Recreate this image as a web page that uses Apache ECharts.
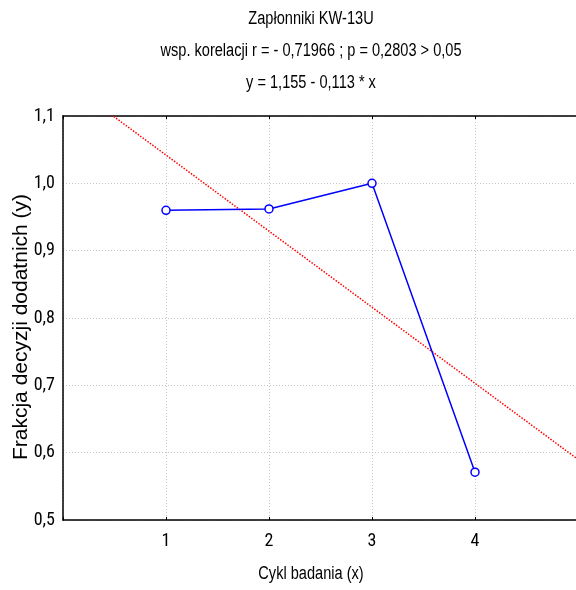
<!DOCTYPE html>
<html>
<head>
<meta charset="utf-8">
<script src="https://cdn.jsdelivr.net/npm/echarts@6/dist/echarts.min.js"></script>
<style>
  html, body { margin: 0; padding: 0; background: #fff; }
  #chart { width: 576px; height: 590px; }
</style>
</head>
<body>
<div id="chart"></div>
<script>
// Measurement cycles and the fraction of positive decisions in each
const cycles = [1, 2, 3, 4];
const fractions = [0.960, 0.962, 1.000, 0.571];

// Fitted regression line y = a + b * x
const intercept = 1.155;
const slope = -0.113;
const fitRange = [0, 5];

// Axis tick values
const xTicks = [1, 2, 3, 4];
const yTicks = [0.5, 0.6, 0.7, 0.8, 0.9, 1.0, 1.1];

const titleLines = [
  'Zapłonniki KW-13U',
  'wsp. korelacji r = - 0,71966 ; p = 0,2803 > 0,05',
  'y = 1,155 - 0,113 * x'
];
const xName = 'Cykl badania (x)';
const yName = 'Frakcja decyzji dodatnich (y)';

const SANS = '"Liberation Sans", Arial, sans-serif';
const NARROW = '"Roboto Condensed", "Liberation Sans", sans-serif';
const NARROW_SCALE = 0.81;   // horizontal squeeze giving a narrow Arial look

const fitLine = fitRange.map(x => [x, intercept + slope * x]);
const points = cycles.map((c, i) => [c, fractions[i]]);

const chart = echarts.init(document.getElementById('chart'), null, { renderer: 'canvas' });

const gridLine = { show: true, lineStyle: { color: '#c4c4c4', type: [1, 2], width: 1 } };

function centeredText(text, x, y, font, extra) {
  return Object.assign({
    type: 'text',
    x: x,
    y: y,
    style: { text: text, font: font, fill: '#000', textAlign: 'center', textVerticalAlign: 'middle' }
  }, extra || {});
}

chart.setOption({
  backgroundColor: '#ffffff',
  animation: false,
  grid: { left: 63, right: -2, top: 116, bottom: 70, containLabel: false, outerBoundsMode: 'none' },
  xAxis: [
    {
      type: 'value',
      min: 0, max: 5, interval: 1,
      position: 'bottom',
      axisLine: { show: true, onZero: false, lineStyle: { color: '#000', width: 1.5 } },
      axisTick: { show: true, inside: true, length: 3, lineStyle: { color: '#000' } },
      axisLabel: {
        fontFamily: NARROW, fontSize: 18, color: '#000', margin: 12,
        formatter: v => (xTicks.includes(v) ? String(v) : '')
      },
      splitLine: gridLine
    },
    {
      // top frame edge with inward ticks
      type: 'value',
      min: 0, max: 5, interval: 1,
      position: 'top',
      axisLine: { show: true, onZero: false, lineStyle: { color: '#000', width: 1.5 } },
      axisTick: { show: true, inside: true, length: 3, lineStyle: { color: '#000' } },
      axisLabel: { show: false },
      splitLine: { show: false }
    }
  ],
  yAxis: {
    type: 'value',
    min: 0.5, max: 1.1, interval: 0.1,
    axisLine: { show: true, lineStyle: { color: '#000', width: 1.5 } },
    axisTick: { show: false },
    axisLabel: {
      fontFamily: NARROW, fontSize: 18, color: '#000', margin: 8,
      formatter: v => {
        const t = yTicks.find(k => Math.abs(k - v) < 1e-6);
        return t === undefined ? '' : t.toFixed(1).replace('.', ',');
      }
    },
    splitLine: gridLine
  },
  graphic: [
    ...titleLines.map((t, i) =>
      centeredText(t, 311, 19.5 + i * 31.7, '18px ' + SANS, { scaleX: NARROW_SCALE })),
    centeredText(xName, 311, 574, '18px ' + SANS, { scaleX: NARROW_SCALE }),
    centeredText(yName, 21, 327, '21px ' + SANS, { rotation: Math.PI / 2 })
  ],
  series: [
    {
      type: 'line',
      data: fitLine,
      showSymbol: false,
      symbol: 'none',
      clip: true,
      lineStyle: { color: '#ff0000', width: 1.5, type: [1.5, 1.5] },
      z: 2
    },
    {
      type: 'line',
      data: points,
      symbol: 'circle',
      symbolSize: 8,
      itemStyle: { color: '#ffffff', borderColor: '#0000ff', borderWidth: 1.5 },
      lineStyle: { color: '#0000ff', width: 1.5 },
      z: 3
    }
  ]
});
</script>
</body>
</html>
